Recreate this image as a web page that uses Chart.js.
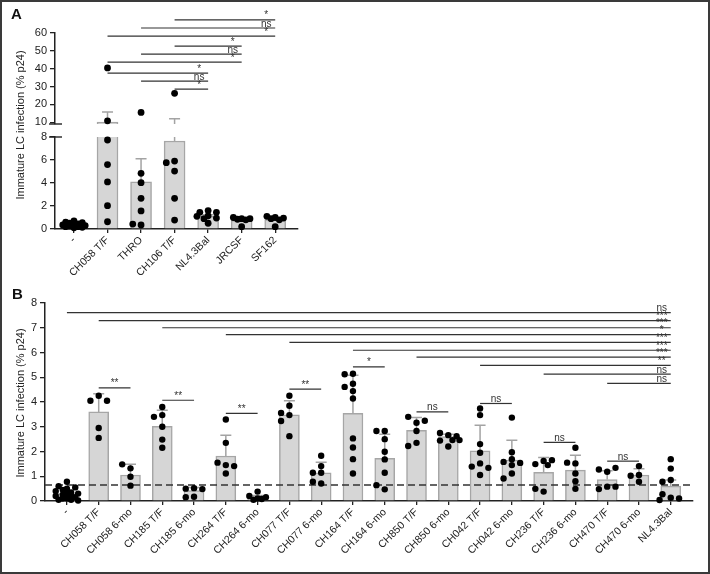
<!DOCTYPE html>
<html>
<head>
<meta charset="utf-8">
<script src="https://cdn.jsdelivr.net/npm/chart.js@4.4.1/dist/chart.umd.min.js"></script>
<style>
  body { margin: 0; background: #fff; }
  #page { position: relative; width: 710px; height: 574px; overflow: hidden; font-family: "Liberation Sans", Arial, sans-serif; }
  .box { position: absolute; }
  .frame { position: absolute; left: 0; top: 0; width: 710px; height: 574px; box-sizing: border-box; border: 2px solid #3a3a3a; pointer-events: none; }
  .panel { position: absolute; font-weight: bold; font-size: 15px; color: #111; }
  .ytitle { position: absolute; font-size: 11px; color: #222; white-space: nowrap; transform: translate(-50%, -50%) rotate(-90deg); }
</style>
</head>
<body>
<div id="page">
  <div class="box" style="left:0;top:0;width:310px;height:135px"><canvas id="aUp"></canvas></div>
  <div class="box" style="left:0;top:120px;width:310px;height:170px"><canvas id="aLow"></canvas></div>
  <div class="box" style="left:0;top:285px;width:710px;height:289px"><canvas id="b"></canvas></div>
  <div class="panel" style="left:11px;top:5px">A</div>
  <div class="panel" style="left:12px;top:285px">B</div>
  <div class="ytitle" style="left:20px;top:125px">Immature LC infection (% p24)</div>
  <div class="ytitle" style="left:20px;top:403px">Immature LC infection (% p24)</div>
  <div class="frame"></div>
</div>
<script>
// ---- panel A data ----
const labelsA = ['-', 'CH058 T/F', 'THRO', 'CH106 T/F', 'NL4.3Bal', 'JRCSF', 'SF162'];
const pointsA = [
    [0.7, 0.6, 0.55, 0.5, 0.45, 0.4, 0.35, 0.3, 0.25, 0.2, 0.2, 0.15, 0.1],
    [40.4, 10.8, 7.74, 5.6, 4.09, 2.03, 0.63],
    [15.5, 4.84, 4.03, 2.67, 1.57, 0.35, 0.43],
    [26.2, 5.91, 5.77, 5.04, 2.67, 0.78],
    [1.6, 1.45, 1.45, 1.15, 1.1, 0.95, 0.9, 0.5],
    [0.9, 1.0, 0.9, 0.85, 0.8, 0.2],
    [1.0, 1.1, 0.95, 0.9, 0.8, 0.2]
];
const meanA = [0.36, 10.1, 4.1, 7.65, 1.1, 0.75, 0.82];
const semA = [0.06, 5.6, 2.0, 4.3, 0.15, 0.12, 0.13];
const ticksAUpper = [10, 20, 30, 40, 50, 60];
const ticksALower = [0, 2, 4, 6, 8];
// [from, to, level, label]
const sigA = [
    [3, 6, 67.3, '*'], [2, 6, 62.8, 'ns'], [1, 6, 58.3, '*'],
    [3, 5, 52.7, '*'], [2, 5, 48.2, 'ns'], [1, 5, 43.7, '*'],
    [1, 4, 37.5, '*'], [2, 4, 33.0, 'ns'], [3, 4, 28.5, '*']
];

// ---- panel B data ----
const labelsB = ['-', 'CH058 T/F', 'CH058 6-mo', 'CH185 T/F', 'CH185 6-mo', 'CH264 T/F', 'CH264 6-mo',
    'CH077 T/F', 'CH077 6-mo', 'CH164 T/F', 'CH164 6-mo', 'CH850 T/F', 'CH850 6-mo', 'CH042 T/F',
    'CH042 6-mo', 'CH236 T/F', 'CH236 6-mo', 'CH470 T/F', 'CH470 6-mo', 'NL4.3Bal'];
const pointsB = [
    [0.78, 0.6, 0.55, 0.5, 0.45, 0.4, 0.35, 0.3, 0.3, 0.25, 0.2, 0.2, 0.15, 0.1, 0.1, 0.05, 0.05, 0.02],
    [4.25, 4.05, 4.05, 2.95, 2.55],
    [1.32, 1.48, 0.98, 0.62],
    [3.8, 3.47, 3.4, 3.0, 2.48, 2.15],
    [0.52, 0.5, 0.48, 0.17, 0.15],
    [3.29, 2.35, 1.45, 1.55, 1.41, 1.11],
    [0.38, 0.2, 0.15, 0.1, 0.05, 0.08],
    [4.25, 3.85, 3.47, 3.56, 3.23, 2.62],
    [1.83, 1.41, 1.14, 1.14, 0.71, 0.78],
    [5.14, 5.12, 4.44, 4.74, 4.61, 4.14, 2.53, 2.16, 1.69, 1.11],
    [2.83, 2.83, 2.5, 1.99, 1.68, 1.14, 0.47, 0.64],
    [3.16, 3.4, 3.24, 2.83, 2.35, 2.22],
    [2.66, 2.75, 2.62, 2.44, 2.46, 2.46, 2.2],
    [3.74, 3.47, 2.3, 1.95, 1.52, 1.39, 1.34, 1.05],
    [3.37, 1.97, 1.69, 1.58, 1.54, 1.45, 1.11, 0.91],
    [1.62, 1.49, 1.65, 1.45, 0.38, 0.49],
    [2.15, 1.52, 1.55, 1.11, 0.8, 0.49],
    [1.18, 1.27, 1.34, 0.58, 0.48, 0.58],
    [1.05, 1.41, 1.02, 0.78],
    [1.69, 1.31, 0.85, 0.78, 0.13, 0.27, 0.1, 0.04]
];
const meanB = [0.3, 3.6, 1.05, 3.02, 0.42, 1.82, 0.16, 3.48, 1.14, 3.54, 1.72, 2.86, 2.6, 2.03, 1.65, 1.16, 1.25, 0.87, 1.05, 0.6];
const semB = [0.06, 0.73, 0.43, 0.65, 0.13, 0.84, 0.06, 0.57, 0.43, 1.54, 0.98, 0.51, 0.1, 1.03, 0.8, 0.6, 0.6, 0.35, 0.25, 0.25];
const ticksB = [0, 1, 2, 3, 4, 5, 6, 7, 8];
const cutoffB = 0.65;
const sigBLong = [
    [0, 19, 7.61, 'ns'], [1, 19, 7.29, '***'], [3, 19, 7.0, '***'], [5, 19, 6.72, '*'],
    [7, 19, 6.41, '***'], [9, 19, 6.09, '***'], [11, 19, 5.81, '***'], [13, 19, 5.48, '**'],
    [15, 19, 5.13, 'ns'], [17, 19, 4.75, 'ns']
];
const sigBPairs = [
    [1, 2, 4.57, '**'], [3, 4, 4.07, '**'], [5, 6, 3.54, '**'], [7, 8, 4.52, '**'],
    [9, 10, 5.42, '*'], [11, 12, 3.6, 'ns'], [13, 14, 3.94, 'ns'], [15, 16, 2.37, 'ns'], [17, 18, 1.61, 'ns']
];

// ---- layout ----
const FONT = '"Liberation Sans", Arial, sans-serif';
const INK = '#222';
const BAR_FILL = '#d6d6d6';
const BAR_EDGE = '#a6a6a6';
const xRangeA = [-0.566, 6.68];
const xRangeB = [-0.69, 19.7];

Chart.defaults.font.family = FONT;
Chart.defaults.color = INK;
Chart.defaults.animation = false;
Chart.defaults.events = [];
Chart.defaults.plugins.legend.display = false;
Chart.defaults.plugins.tooltip.enabled = false;

// prism-like column spread: each point goes in the nearest free column,
// crowded points squeeze in where they overlap least
function swarm(values, yPx, stepPx, tol) {
    const placed = [];
    return values.map(v => {
        const py = v * yPx;
        const dist = c => Math.min(Infinity, ...placed.map(p => Math.hypot((p.c - c) * stepPx, p.py - py)));
        let col = [0, -1, 1].find(c => dist(c) >= tol);
        if (col === undefined) {
            let best = -1;
            for (const c of [0, -0.5, 0.5, -1, 1, -1.35, 1.35]) {
                const d = dist(c);
                if (d > best + 0.5) { best = d; col = c; }
            }
        }
        placed.push({ c: col, py });
        return { c: col, v };
    });
}

function spread(groups, keep, yPx, stepPx, pxPerUnit, tol) {
    const out = [];
    groups.forEach((vals, i) => {
        swarm(vals.filter(keep), yPx, stepPx, tol).forEach(p => out.push({ x: i + p.c * stepPx / pxPerUnit, y: p.v }));
    });
    return out;
}

const errorBars = {
    id: 'errorBars',
    afterDatasetDraw(chart, args) {
        const ds = chart.data.datasets[args.index];
        if (!ds.sem) return;
        const { ctx, chartArea: a, scales: { x, y } } = chart;
        ctx.save();
        ctx.beginPath();
        ctx.rect(a.left - 20, a.top, a.right - a.left + 40, a.bottom - a.top);
        ctx.clip();
        ctx.strokeStyle = '#a3a3a3';
        ctx.lineWidth = 1.5;
        ds.data.forEach((d, i) => {
            const px = x.getPixelForValue(d.x);
            const y0 = y.getPixelForValue(d.y);
            const y1 = y.getPixelForValue(d.y + ds.sem[i]);
            ctx.beginPath();
            ctx.moveTo(px, y0);
            ctx.lineTo(px, y1);
            ctx.moveTo(px - 5.5, y1);
            ctx.lineTo(px + 5.5, y1);
            ctx.stroke();
        });
        ctx.restore();
    }
};

const sigLines = {
    id: 'sig',
    afterDatasetsDraw(chart, args, opts) {
        const { ctx, scales: { x, y } } = chart;
        ctx.save();
        ctx.strokeStyle = '#333';
        ctx.fillStyle = '#333';
        ctx.lineWidth = 1.2;
        ctx.font = '10px ' + FONT;
        ctx.textAlign = 'center';
        const draw = (list, atEnd) => (list || []).forEach(([from, to, level, text]) => {
            const x0 = x.getPixelForValue(from);
            const x1 = x.getPixelForValue(to);
            const py = y.getPixelForValue(level);
            ctx.beginPath();
            ctx.moveTo(x0, py);
            ctx.lineTo(x1, py);
            ctx.stroke();
            ctx.fillText(text, atEnd ? x1 - 9 : (x0 + x1) / 2, py - 1.5);
        });
        draw(opts.end, true);
        draw(opts.mid, false);
        ctx.restore();
    }
};

const breakMark = {
    id: 'brk',
    afterDraw(chart, args, opts) {
        if (!opts.edge) return;
        const { ctx, chartArea: a } = chart;
        const py = opts.edge === 'top' ? a.top : a.bottom;
        ctx.save();
        ctx.strokeStyle = INK;
        ctx.lineWidth = 1.4;
        ctx.beginPath();
        ctx.moveTo(a.left - 6, py);
        ctx.lineTo(a.left + 7, py);
        ctx.stroke();
        ctx.restore();
    }
};

function yAxis(min, max, ticks, width) {
    return {
        min, max,
        afterBuildTicks: s => { s.ticks = ticks.map(v => ({ value: v })); },
        afterFit: s => { s.width = width; s.paddingTop = 0; s.paddingBottom = 0; },
        grid: { drawOnChartArea: false, tickLength: 5, color: INK, lineWidth: 1.3 },
        border: { color: INK, width: 1.5 },
        ticks: { font: { size: 11 }, color: INK, padding: 3 }
    };
}

function xAxis(range, labels, height, show) {
    return {
        type: 'linear', min: range[0], max: range[1], display: show, offset: false,
        afterBuildTicks: s => { s.ticks = labels.map((l, i) => ({ value: i })); },
        afterFit: s => { s.height = height; s.paddingLeft = 0; s.paddingRight = 0; },
        grid: { offset: false, drawOnChartArea: false, tickLength: 4, color: INK, lineWidth: 1.3 },
        border: { color: INK, width: 1.5 },
        ticks: {
            autoSkip: false, maxRotation: 45, minRotation: 45, padding: 1,
            font: { size: 10.5 }, color: INK,
            callback: v => labels[v]
        }
    };
}

function barSet(means, sems, thickness) {
    return {
        type: 'bar', order: 2,
        data: means.map((m, i) => ({ x: i, y: m })),
        sem: sems,
        backgroundColor: BAR_FILL, borderColor: BAR_EDGE, borderWidth: 1.5,
        barThickness: thickness
    };
}

function pointSet(data, radius) {
    return {
        type: 'scatter', order: 0, data, clip: false,
        pointRadius: radius, pointBackgroundColor: '#000', pointBorderWidth: 0
    };
}

// panel A, upper segment (10-60)
new Chart(document.getElementById('aUp'), {
    type: 'bar',
    data: {
        datasets: [
            pointSet(spread(pointsA, v => v > 8, 91 / 51, 8.3, 33.54, 5), 3.4),
            barSet(meanA, semA, 21)
        ]
    },
    options: {
        responsive: true, maintainAspectRatio: false,
        layout: { padding: { left: 0, right: 12, top: 33, bottom: 11 } },
        scales: { x: xAxis(xRangeA, labelsA, 0, false), y: yAxis(9, 60, ticksAUpper, 55) },
        plugins: { sig: { end: sigA }, brk: { edge: 'bottom' } }
    },
    plugins: [errorBars, sigLines, breakMark]
});

// panel A, lower segment (0-8)
new Chart(document.getElementById('aLow'), {
    type: 'bar',
    data: {
        datasets: [
            pointSet(spread(pointsA, v => v <= 8, 11.5, 8.3, 33.54, 5), 3.4),
            barSet(meanA, semA, 21)
        ]
    },
    options: {
        responsive: true, maintainAspectRatio: false,
        layout: { padding: { left: 0, right: 12, top: 17, bottom: 0 } },
        scales: { x: xAxis(xRangeA, labelsA, 61, true), y: yAxis(0, 8, ticksALower, 55) },
        plugins: { brk: { edge: 'top' } }
    },
    plugins: [errorBars, breakMark]
});

// panel B
new Chart(document.getElementById('b'), {
    type: 'bar',
    data: {
        datasets: [
            pointSet(spread(pointsB, () => true, 24.75, 8.3, 31.78, 6.5), 3.2),
            {
                type: 'line', order: 1,
                data: [{ x: xRangeB[0], y: cutoffB }, { x: xRangeB[1], y: cutoffB }],
                borderColor: '#333', borderWidth: 1.5, borderDash: [7, 4], pointRadius: 0
            },
            barSet(meanB, semB, 20)
        ]
    },
    options: {
        responsive: true, maintainAspectRatio: false,
        layout: { padding: { left: 0, right: 17, top: 18, bottom: 0 } },
        scales: { x: xAxis(xRangeB, labelsB, 73, true), y: yAxis(0, 8, ticksB, 45) },
        plugins: { sig: { end: sigBLong, mid: sigBPairs } }
    },
    plugins: [errorBars, sigLines]
});
</script>
</body>
</html>
